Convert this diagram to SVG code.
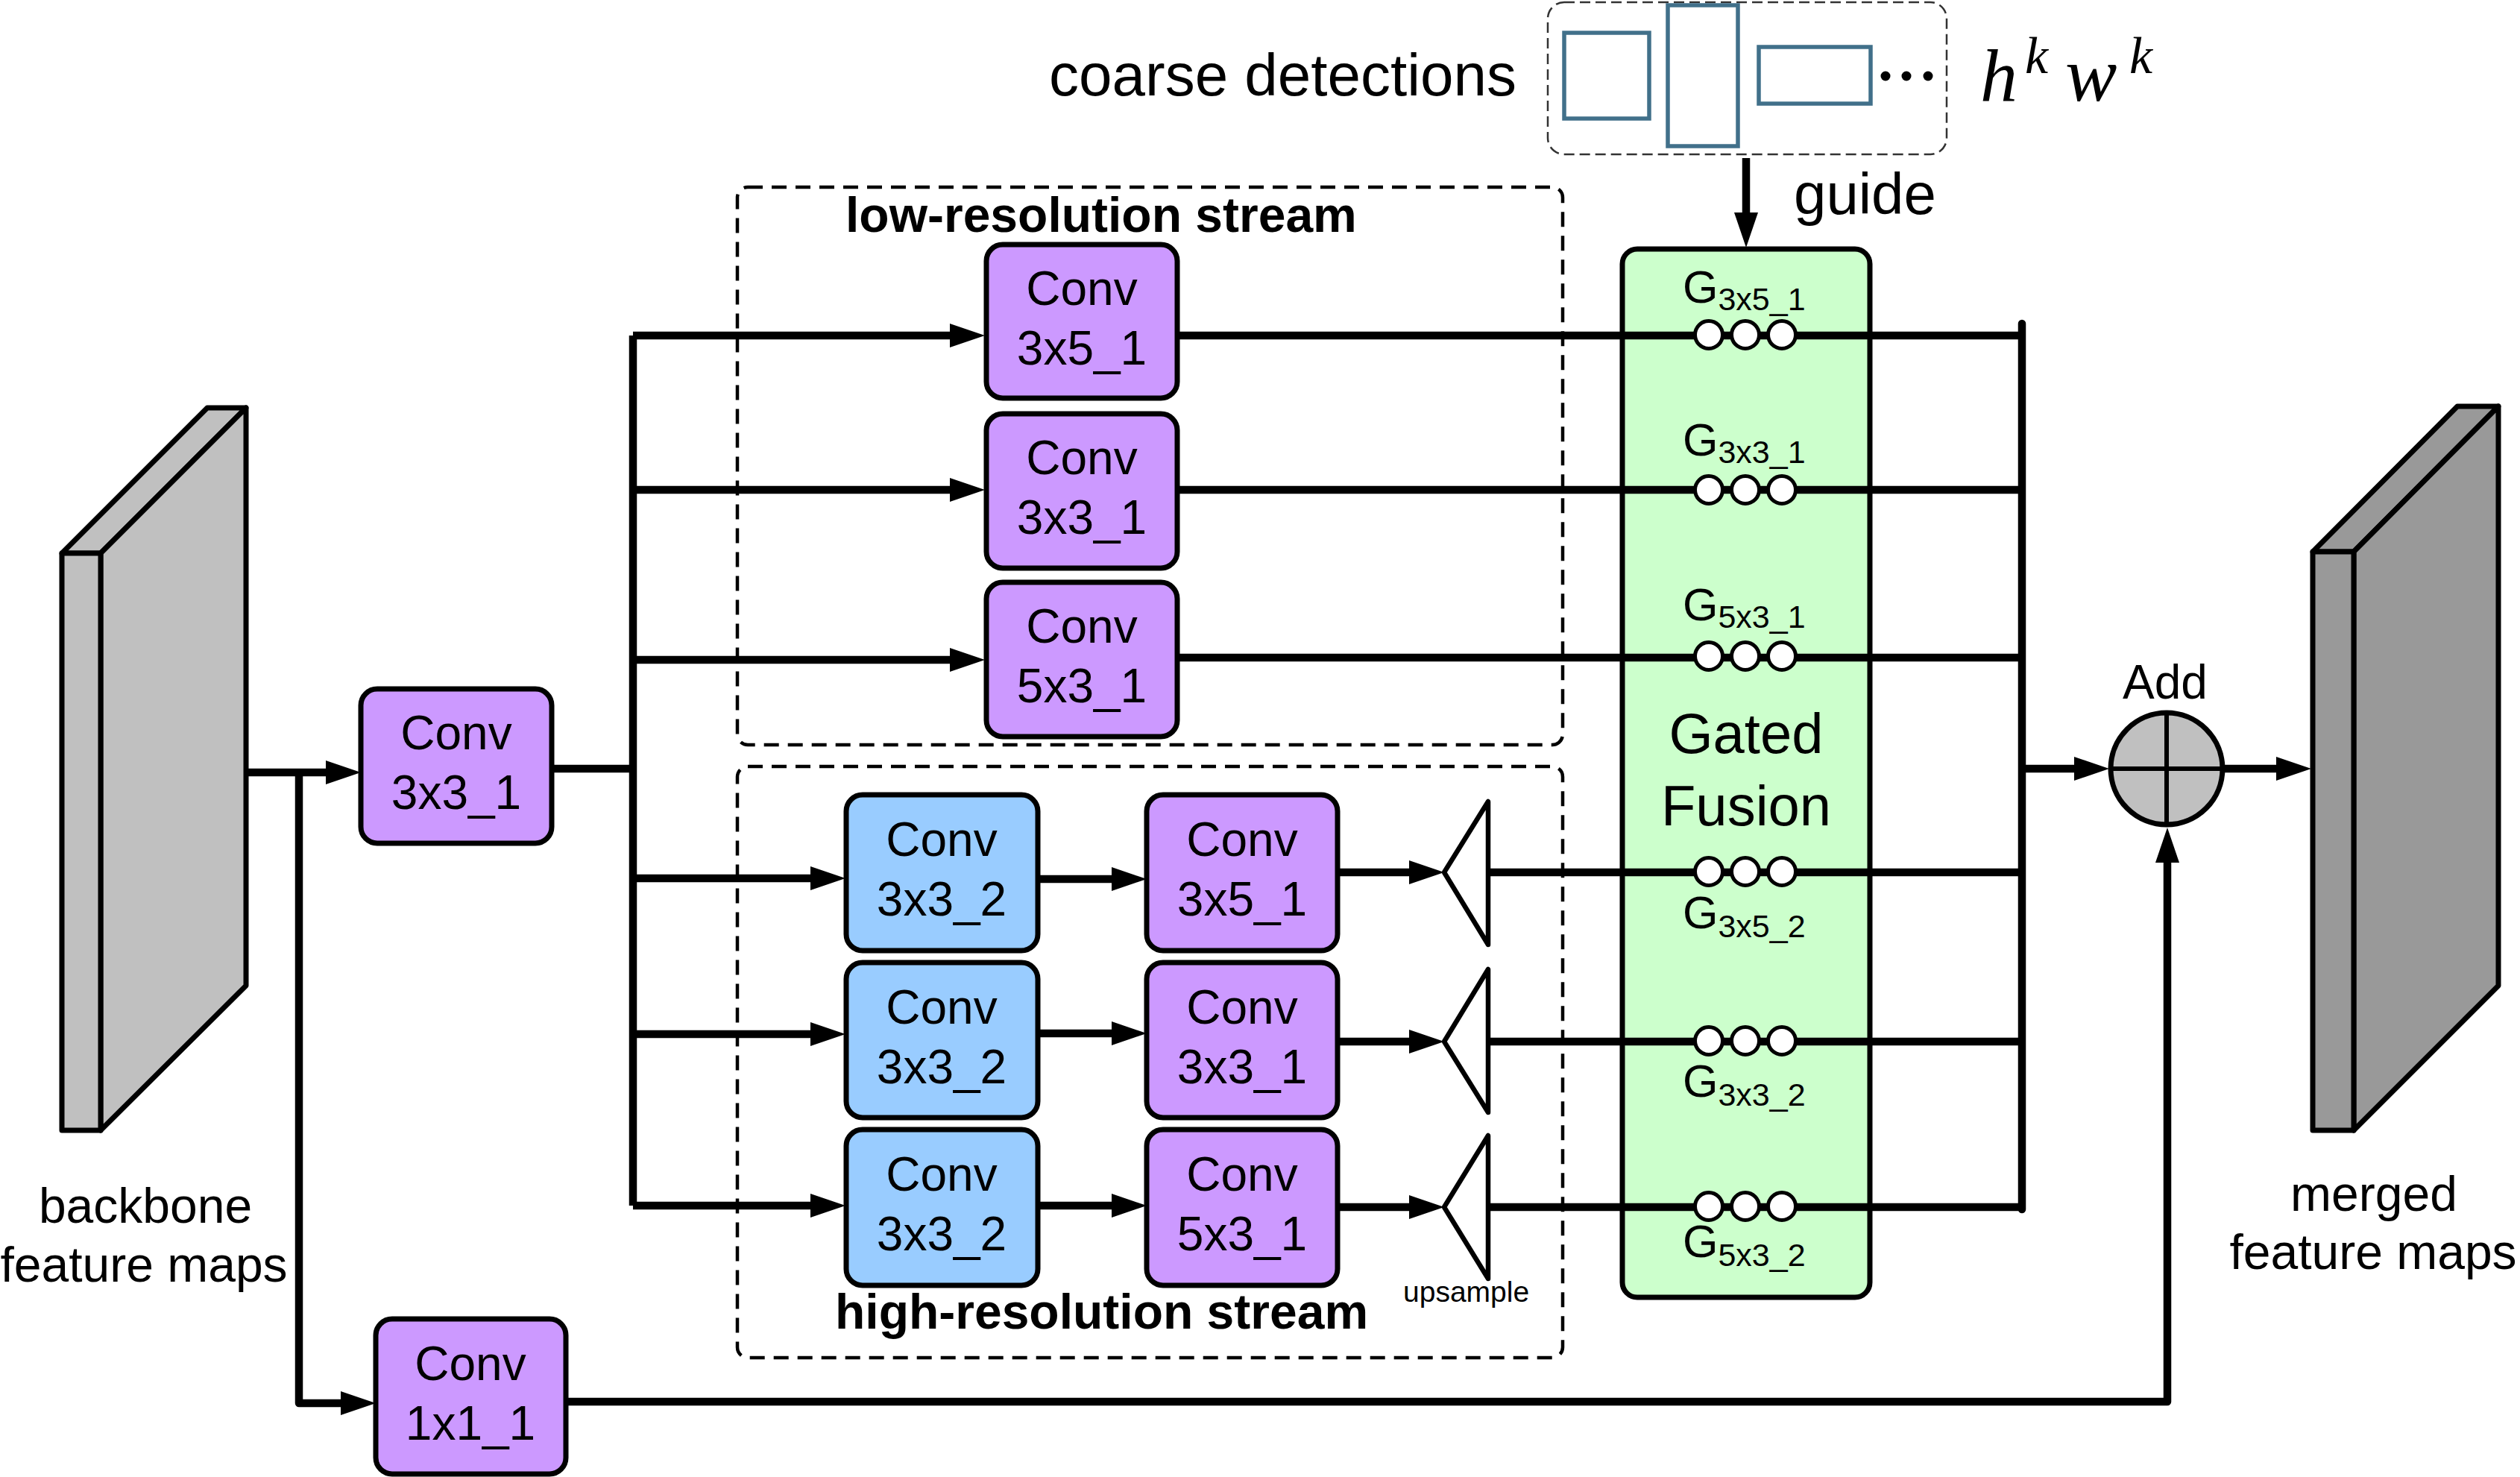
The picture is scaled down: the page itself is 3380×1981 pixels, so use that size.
<svg xmlns="http://www.w3.org/2000/svg" width="3380" height="1981" viewBox="0 0 3380 1981">
<defs>
<style>
.t{font-family:"Liberation Sans",Arial,sans-serif;fill:#000}
.lbl{font-family:"Liberation Sans",Arial,sans-serif;font-size:64px;text-anchor:middle;fill:#000}
.bold{font-family:"Liberation Sans",Arial,sans-serif;font-size:66px;font-weight:bold;fill:#000}
.math{font-family:"Liberation Serif","Times New Roman",serif;font-style:italic;fill:#000}
.box{stroke:#000;stroke-width:7}
.pur{fill:#cc99ff}
.blu{fill:#99ccff}
.slab{stroke:#000;stroke-width:7;stroke-linejoin:round}
.dash{fill:none;stroke:#000;stroke-width:4.5;stroke-dasharray:20 12}
.ln{fill:none;stroke:#000;stroke-width:10.5;stroke-linejoin:round}
.arr{marker-end:url(#ah)}
.det{fill:none;stroke:#41708a;stroke-width:5.5}
.gate{fill:#fff;stroke:#000;stroke-width:5}
.up{fill:#fff;stroke:#000;stroke-width:6.5;stroke-linejoin:round}
</style>
<marker id="ah" viewBox="0 0 47 32" refX="17" refY="16" markerWidth="47" markerHeight="32" markerUnits="userSpaceOnUse" orient="auto">
<path d="M0,0 L47,16 L0,32 z" fill="#000"/>
</marker>
</defs>
<rect width="3380" height="1981" fill="#fff"/>

<g id="low-res-stream">
<rect class="dash" x="989" y="251" width="1107" height="748" rx="14"/>
<text class="bold" x="1134" y="311">low-resolution stream</text>
</g>
<g id="high-res-stream">
<rect class="dash" x="989" y="1028" width="1107" height="793" rx="14"/>
<text class="bold" x="1120" y="1782">high-resolution stream</text>
</g>

<g id="coarse-detections">
<text class="t" x="1407" y="128" font-size="80">coarse detections</text>
<rect x="2076" y="3" width="535" height="204" rx="22" fill="none" stroke="#333" stroke-width="2.5" stroke-dasharray="14 7"/>
<rect class="det" x="2098" y="44" width="114" height="115"/>
<rect class="det" x="2237" y="7" width="94" height="189"/>
<rect class="det" x="2359" y="63" width="150" height="76"/>
<circle cx="2529" cy="102" r="6.5"/>
<circle cx="2557" cy="102" r="6.5"/>
<circle cx="2586" cy="102" r="6.5"/>
<text class="math" x="2656" y="135" font-size="100">h</text>
<text class="math" x="2716" y="98" font-size="70">k</text>
<text class="math" x="2770" y="135" font-size="104">w</text>
<text class="math" x="2856" y="98" font-size="70">k</text>
<text class="t" x="2406" y="287" font-size="78">guide</text>
</g>

<g id="backbone">
<polygon class="slab" fill="#c0c0c0" points="83,742 278,547 330,547 135,742"/>
<polygon class="slab" fill="#c0c0c0" points="135,742 330,547 330,1322 135,1516"/>
<rect class="slab" fill="#c0c0c0" x="83" y="742" width="52" height="774"/>
<text class="t" x="195" y="1640" font-size="66" text-anchor="middle">backbone</text>
<text class="t" x="193" y="1719" font-size="66" text-anchor="middle">feature maps</text>
</g>

<g id="merged">
<polygon class="slab" fill="#999999" points="3102,740 3296,545 3351,545 3157,740"/>
<polygon class="slab" fill="#999999" points="3157,740 3351,545 3351,1322 3157,1516"/>
<rect class="slab" fill="#999999" x="3102" y="740" width="55" height="776"/>
<text class="t" x="3184" y="1624" font-size="66" text-anchor="middle">merged</text>
<text class="t" x="3183" y="1702" font-size="66" text-anchor="middle">feature maps</text>
</g>

<g id="gated-fusion">
<rect x="2176" y="334" width="332" height="1406" rx="20" fill="#ccffcc" stroke="#000" stroke-width="7"/>
<text class="t" x="2257" y="406" font-size="61">G<tspan font-size="43" dy="10">3x5_1</tspan></text>
<text class="t" x="2257" y="611" font-size="61">G<tspan font-size="43" dy="10">3x3_1</tspan></text>
<text class="t" x="2257" y="832" font-size="61">G<tspan font-size="43" dy="10">5x3_1</tspan></text>
<text class="t" x="2342" y="1010" font-size="76" text-anchor="middle">Gated</text>
<text class="t" x="2342" y="1107" font-size="76" text-anchor="middle">Fusion</text>
<text class="t" x="2257" y="1245" font-size="61">G<tspan font-size="43" dy="12">3x5_2</tspan></text>
<text class="t" x="2257" y="1471" font-size="61">G<tspan font-size="43" dy="12">3x3_2</tspan></text>
<text class="t" x="2257" y="1686" font-size="61">G<tspan font-size="43" dy="12">5x3_2</tspan></text>
</g>

<g id="conv3x3_1_in">
<rect class="box pur" x="484" y="924" width="256" height="207" rx="22"/>
<text class="lbl" x="612" y="1005">Conv</text>
<text class="lbl" x="612" y="1085">3x3_1</text>
</g>
<g id="conv1x1_1">
<rect class="box pur" x="504" y="1769" width="255" height="208" rx="22"/>
<text class="lbl" x="631" y="1851">Conv</text>
<text class="lbl" x="631" y="1931">1x1_1</text>
</g>

<g id="low-conv3x5_1">
<rect class="box pur" x="1323" y="328" width="256" height="206" rx="22"/>
<text class="lbl" x="1451" y="409">Conv</text>
<text class="lbl" x="1451" y="489">3x5_1</text>
</g>
<g id="low-conv3x3_1">
<rect class="box pur" x="1323" y="555" width="256" height="207" rx="22"/>
<text class="lbl" x="1451" y="636">Conv</text>
<text class="lbl" x="1451" y="716">3x3_1</text>
</g>
<g id="low-conv5x3_1">
<rect class="box pur" x="1323" y="781" width="256" height="207" rx="22"/>
<text class="lbl" x="1451" y="862">Conv</text>
<text class="lbl" x="1451" y="942">5x3_1</text>
</g>

<g id="high-conv3x3_2-a">
<rect class="box blu" x="1135" y="1066" width="257" height="209" rx="22"/>
<text class="lbl" x="1263" y="1148">Conv</text>
<text class="lbl" x="1263" y="1228">3x3_2</text>
</g>
<g id="high-conv3x3_2-b">
<rect class="box blu" x="1135" y="1291" width="257" height="208" rx="22"/>
<text class="lbl" x="1263" y="1373">Conv</text>
<text class="lbl" x="1263" y="1453">3x3_2</text>
</g>
<g id="high-conv3x3_2-c">
<rect class="box blu" x="1135" y="1515" width="257" height="209" rx="22"/>
<text class="lbl" x="1263" y="1597">Conv</text>
<text class="lbl" x="1263" y="1677">3x3_2</text>
</g>
<g id="high-conv3x5_1">
<rect class="box pur" x="1538" y="1066" width="256" height="209" rx="22"/>
<text class="lbl" x="1666" y="1148">Conv</text>
<text class="lbl" x="1666" y="1228">3x5_1</text>
</g>
<g id="high-conv3x3_1">
<rect class="box pur" x="1538" y="1291" width="256" height="208" rx="22"/>
<text class="lbl" x="1666" y="1373">Conv</text>
<text class="lbl" x="1666" y="1453">3x3_1</text>
</g>
<g id="high-conv5x3_1">
<rect class="box pur" x="1538" y="1515" width="256" height="209" rx="22"/>
<text class="lbl" x="1666" y="1597">Conv</text>
<text class="lbl" x="1666" y="1677">5x3_1</text>
</g>

<g id="upsample">
<polygon class="up" points="1937,1170 1996,1075 1996,1267"/>
<polygon class="up" points="1937,1397 1996,1300 1996,1492"/>
<polygon class="up" points="1937,1619 1996,1523 1996,1715"/>
<text class="t" x="1882" y="1746" font-size="39">upsample</text>
</g>

<g id="add">
<text class="t" x="2904" y="937" font-size="64" text-anchor="middle">Add</text>
<circle cx="2906" cy="1031" r="75" fill="#c0c0c0" stroke="#000" stroke-width="7"/>
<path d="M2906,956 V1106 M2831,1031 H2981" stroke="#000" stroke-width="6"/>
</g>

<g id="connectors">
<path class="ln arr" d="M330,1036 H454"/>
<path class="ln arr" d="M401,1036 V1882 H474"/>
<path class="ln" d="M740,1031 H849"/>
<path class="ln" d="M849,450 V1617"/>
<path class="ln arr" d="M849,450 H1291"/>
<path class="ln arr" d="M849,657 H1291"/>
<path class="ln arr" d="M849,885 H1291"/>
<path class="ln arr" d="M849,1178 H1104"/>
<path class="ln arr" d="M849,1387 H1104"/>
<path class="ln arr" d="M849,1617 H1104"/>
<path class="ln" d="M1579,450 H2712"/>
<path class="ln" d="M1579,657 H2712"/>
<path class="ln" d="M1579,882 H2712"/>
<path class="ln arr" d="M1392,1179 H1508"/>
<path class="ln arr" d="M1392,1386 H1508"/>
<path class="ln arr" d="M1392,1617 H1508"/>
<path class="ln arr" d="M1794,1170 H1907"/>
<path class="ln arr" d="M1794,1397 H1907"/>
<path class="ln arr" d="M1794,1619 H1907"/>
<path class="ln" d="M1996,1170 H2712"/>
<path class="ln" d="M1996,1397 H2712"/>
<path class="ln" d="M1996,1619 H2712"/>
<path class="ln" d="M2712,434 V1622" stroke-linecap="round"/>
<path class="ln arr" d="M2712,1031 H2799"/>
<path class="ln arr" d="M2982,1031 H3070"/>
<path class="ln arr" d="M759,1880 H2907 V1140"/>
<path class="ln arr" d="M2342,212 V302"/>
</g>

<g id="gates">
<circle class="gate" cx="2292" cy="449" r="18.5"/><circle class="gate" cx="2341" cy="449" r="18.5"/><circle class="gate" cx="2390" cy="449" r="18.5"/>
<circle class="gate" cx="2292" cy="657" r="18.5"/><circle class="gate" cx="2341" cy="657" r="18.5"/><circle class="gate" cx="2390" cy="657" r="18.5"/>
<circle class="gate" cx="2292" cy="880" r="18.5"/><circle class="gate" cx="2341" cy="880" r="18.5"/><circle class="gate" cx="2390" cy="880" r="18.5"/>
<circle class="gate" cx="2292" cy="1169" r="18.5"/><circle class="gate" cx="2341" cy="1169" r="18.5"/><circle class="gate" cx="2390" cy="1169" r="18.5"/>
<circle class="gate" cx="2292" cy="1396" r="18.5"/><circle class="gate" cx="2341" cy="1396" r="18.5"/><circle class="gate" cx="2390" cy="1396" r="18.5"/>
<circle class="gate" cx="2292" cy="1618" r="18.5"/><circle class="gate" cx="2341" cy="1618" r="18.5"/><circle class="gate" cx="2390" cy="1618" r="18.5"/>
</g>
</svg>
